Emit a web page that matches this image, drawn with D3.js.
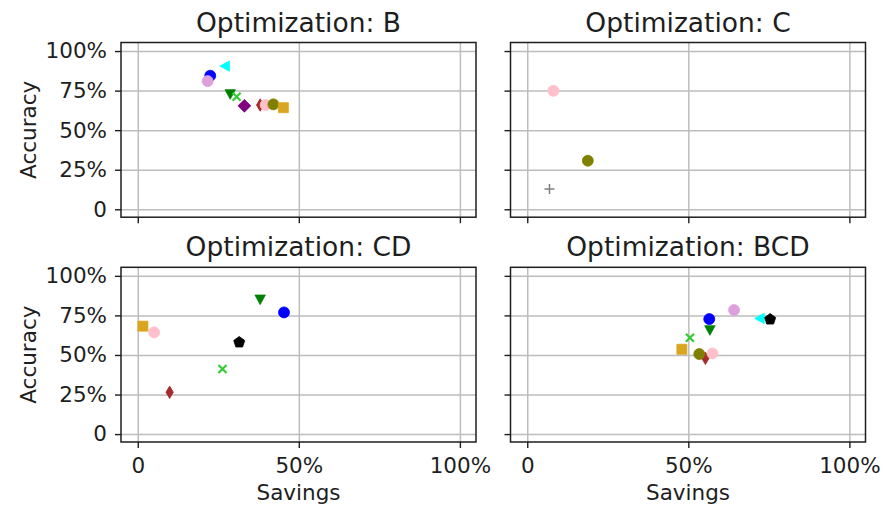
<!DOCTYPE html>
<html>
<head>
<meta charset="utf-8">
<script src="https://cdn.jsdelivr.net/npm/d3@7"></script>
<style>
  body { margin: 0; background: #fff; }
  svg { font-family: "DejaVu Sans", sans-serif; }
</style>
</head>
<body>
<svg id="chart" width="885" height="508"></svg>
<script>
// one entry per method, same order everywhere (also draw order)
const seriesColors  = ["blue", "cyan", "green", "limegreen", "purple", "brown", "pink", "olive", "goldenrod", "black", "gray", "plum"];
const seriesMarkers = ["o", "<", "v", "x", "D", "d", "o", "o", "s", "p", "+", "o"];

const panelTitles = ["Optimization: B", "Optimization: C", "Optimization: CD", "Optimization: BCD"];

// null = method not present in that panel
const savingsB    = [0.225, 0.271, 0.287, 0.307, 0.331, 0.380, 0.397, 0.421, 0.452, null, null, 0.217];
const accuracyB   = [0.844, 0.905, 0.728, 0.711, 0.654, 0.659, 0.659, 0.663, 0.642, null, null, 0.810];
const savingsC    = [null, null, null, null, null, null, 0.081, 0.188, null, null, 0.069, null];
const accuracyC   = [null, null, null, null, null, null, 0.749, 0.307, null, null, 0.128, null];
const savingsCD   = [0.454, null, 0.380, 0.263, null, 0.099, 0.051, null, 0.016, 0.315, null, null];
const accuracyCD  = [0.769, null, 0.851, 0.411, null, 0.264, 0.643, null, 0.682, 0.580, null, null];
const savingsBCD  = [0.565, 0.722, 0.567, 0.505, null, 0.553, 0.575, 0.534, 0.480, 0.754, null, 0.642];
const accuracyBCD = [0.727, 0.731, 0.657, 0.609, null, 0.479, 0.510, 0.506, 0.536, 0.725, null, 0.784];

const xTicks = [0, 0.5, 1];
const yTicks = [0, 0.25, 0.5, 0.75, 1];

const panelSavings  = [savingsB, savingsC, savingsCD, savingsBCD];
const panelAccuracy = [accuracyB, accuracyC, accuracyCD, accuracyBCD];

const svg = d3.select("#chart");
const W = 355, H = 174.7;
const lefts = [121, 510.5], tops = [42.5, 267.3];
const pct = d => d === 0 ? "0" : d3.format(".0%")(d);
const ink = "#1e1e1e";

function poly(p, pts) {
  p.moveTo(pts[0][0], pts[0][1]);
  pts.slice(1).forEach(q => p.lineTo(q[0], q[1]));
  p.closePath();
}

function markerPath(m) {
  const p = d3.path();
  if (m === "o") p.arc(0, 0, 5.5, 0, 2 * Math.PI);
  else if (m === "s") p.rect(-5, -5, 10, 10);
  else if (m === "D") poly(p, [[0, -6.4], [6.4, 0], [0, 6.4], [-6.4, 0]]);
  else if (m === "d") poly(p, [[0, -6.2], [3.7, 0], [0, 6.2], [-3.7, 0]]);
  else if (m === "v") poly(p, [[-5.2, -4.4], [5.2, -4.4], [0, 5.2]]);
  else if (m === "<") poly(p, [[-5.2, 0], [4.4, -5.2], [4.4, 5.2]]);
  else if (m === "p") poly(p, d3.range(5).map(k => {
    const a = -Math.PI / 2 + k * 2 * Math.PI / 5;
    return [5.8 * Math.cos(a), 5.8 * Math.sin(a)];
  }));
  else if (m === "x") { p.moveTo(-4, -4); p.lineTo(4, 4); p.moveTo(-4, 4); p.lineTo(4, -4); }
  else if (m === "+") { p.moveTo(-5, 0); p.lineTo(5, 0); p.moveTo(0, -5); p.lineTo(0, 5); }
  return p.toString();
}

panelTitles.forEach((title, i) => {
  const col = i % 2, row = Math.floor(i / 2);
  const left = lefts[col], top = tops[row];

  const x = d3.scaleLinear().domain([-0.052, 1.05]).range([left, left + W]);
  const y = d3.scaleLinear().domain([-0.05, 1.054]).range([top + H, top]);

  const g = svg.append("g");

  // grid
  g.append("g")
    .attr("transform", `translate(0,${top + H})`)
    .call(d3.axisBottom(x).tickValues(xTicks).tickSize(-H).tickFormat(""))
    .call(a => a.select(".domain").remove())
    .call(a => a.selectAll("line").attr("stroke", "#bdbdbd").attr("stroke-width", 1.5));
  g.append("g")
    .attr("transform", `translate(${left},0)`)
    .call(d3.axisLeft(y).tickValues(yTicks).tickSize(-W).tickFormat(""))
    .call(a => a.select(".domain").remove())
    .call(a => a.selectAll("line").attr("stroke", "#bdbdbd").attr("stroke-width", 1.5));

  // points
  const pts = panelSavings[i]
    .map((s, k) => ({ k, s, a: panelAccuracy[i][k] }))
    .filter(d => d.s !== null);

  g.append("g")
    .selectAll("path")
    .data(pts)
    .enter()
    .append("path")
    .attr("transform", d => `translate(${x(d.s)},${y(d.a)})`)
    .attr("d", d => markerPath(seriesMarkers[d.k]))
    .attr("fill", d => (seriesMarkers[d.k] === "x" || seriesMarkers[d.k] === "+") ? "none" : seriesColors[d.k])
    .attr("stroke", d => seriesColors[d.k])
    .attr("stroke-width", d => seriesMarkers[d.k] === "x" ? 2.2 : (seriesMarkers[d.k] === "+" ? 1.5 : 0.8));

  // axes ticks + labels
  const xAxis = g.append("g")
    .attr("transform", `translate(0,${top + H})`)
    .call(d3.axisBottom(x).tickValues(xTicks).tickSize(6).tickPadding(10)
      .tickFormat(row === 1 ? pct : ""));
  const yAxis = g.append("g")
    .attr("transform", `translate(${left},0)`)
    .call(d3.axisLeft(y).tickValues(yTicks).tickSize(6).tickPadding(8)
      .tickFormat(col === 0 ? pct : ""));
  [xAxis, yAxis].forEach(a => {
    a.select(".domain").remove();
    a.selectAll("line").attr("stroke", ink).attr("stroke-width", 1.4);
    a.selectAll("text").attr("fill", ink).style("font-size", "21.5px")
      .style("font-family", "'DejaVu Sans', sans-serif");
  });

  // frame
  g.append("rect")
    .attr("x", left).attr("y", top)
    .attr("width", W).attr("height", H)
    .attr("fill", "none")
    .attr("stroke", ink)
    .attr("stroke-width", 1.5);

  // title
  g.append("text")
    .attr("x", left + W / 2)
    .attr("y", top - 11)
    .attr("text-anchor", "middle")
    .attr("fill", ink)
    .style("font-size", "26.5px")
    .text(title);

  if (row === 1) {
    g.append("text")
      .attr("x", left + W / 2)
      .attr("y", 500)
      .attr("text-anchor", "middle")
      .attr("fill", ink)
      .style("font-size", "21.5px")
      .text("Savings");
  }
  if (col === 0) {
    g.append("text")
      .attr("transform", `translate(36,${top + H / 2}) rotate(-90)`)
      .attr("text-anchor", "middle")
      .attr("fill", ink)
      .style("font-size", "21.5px")
      .text("Accuracy");
  }
});
</script>
</body>
</html>
